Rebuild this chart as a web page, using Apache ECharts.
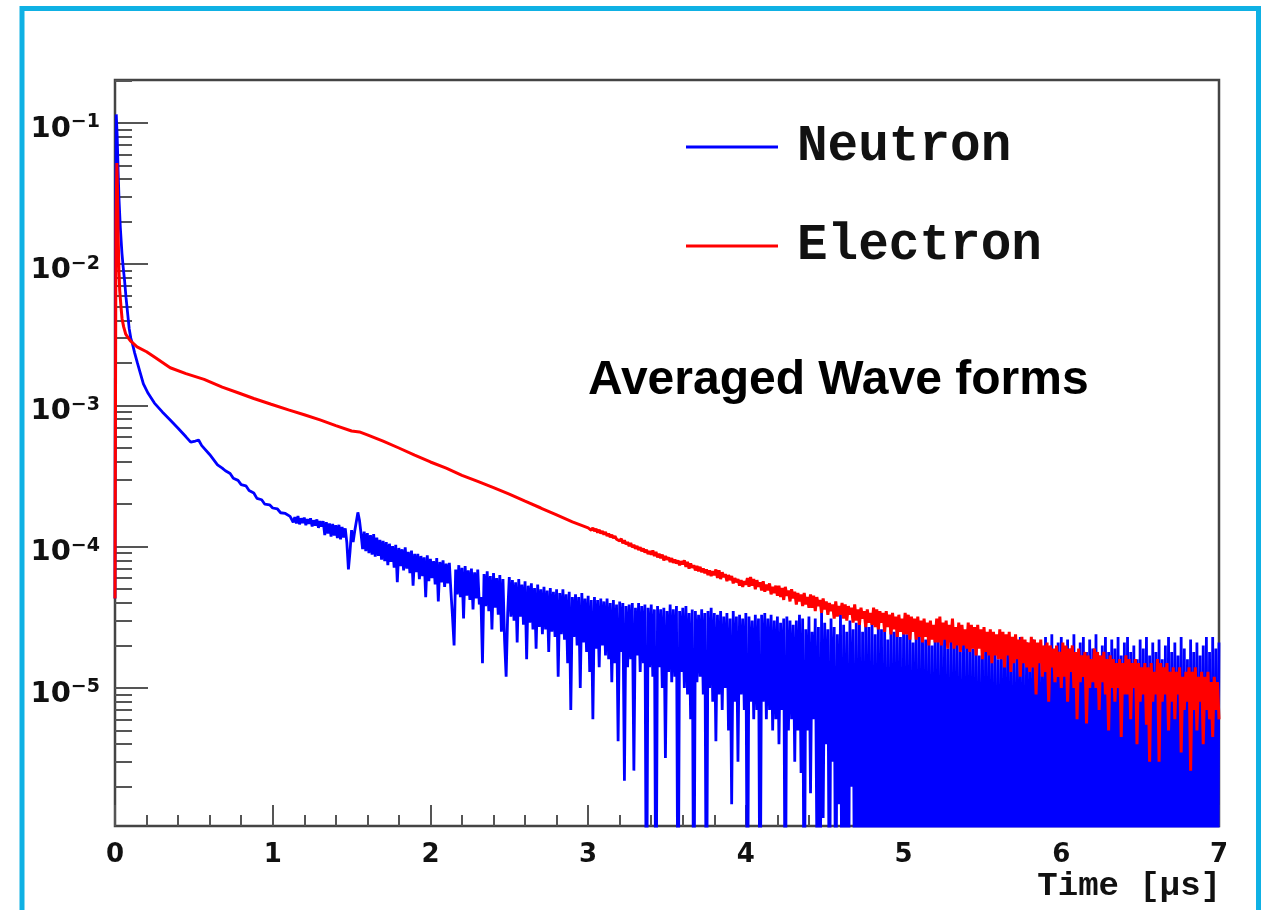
<!DOCTYPE html>
<html>
<head>
<meta charset="utf-8">
<title>Averaged Wave forms</title>
<script src="https://cdn.jsdelivr.net/npm/echarts@6/dist/echarts.min.js"></script>
<style>
  html, body { margin: 0; padding: 0; background: #fff; }
  #chart { width: 1271px; height: 910px; }
</style>
</head>
<body>
<div id="chart"></div>
<script>
// 坐标轴范围 / tick labels
const xMin = 0, xMax = 7;
const yMin = 1.054e-6, yMax = 0.2015;
const xTickLabels = [0, 1, 2, 3, 4, 5, 6, 7];
const yMajorTicks = [1e-5, 1e-4, 1e-3, 1e-2, 1e-1];

// 前沿部分 [time(us), amplitude]
const neutronHead = [
  [0, 4.3e-5], [0.004, 2.0e-2], [0.008, 0.115], [0.014, 0.08], [0.02, 0.045],
  [0.026, 0.028], [0.034, 0.018], [0.044, 0.012], [0.052, 9.5e-3], [0.06, 7.8e-3],
  [0.07, 5.8e-3], [0.08, 4.5e-3], [0.09, 3.5e-3], [0.10, 3.0e-3], [0.11, 2.75e-3],
  [0.125, 2.35e-3], [0.142, 2.0e-3], [0.16, 1.7e-3], [0.18, 1.42e-3], [0.21, 1.22e-3],
  [0.25, 1.04e-3], [0.30, 9.0e-4], [0.35, 7.9e-4], [0.40, 6.9e-4], [0.45, 6.0e-4],
  [0.48, 5.5e-4], [0.51, 5.6e-4], [0.53, 5.7e-4], [0.55, 5.2e-4], [0.60, 4.5e-4],
  [0.65, 3.8e-4], [0.68, 3.6e-4], [0.70, 3.45e-4], [0.73, 3.3e-4], [0.75, 3.05e-4],
  [0.78, 2.95e-4], [0.80, 2.75e-4], [0.83, 2.7e-4], [0.85, 2.5e-4], [0.88, 2.4e-4],
  [0.90, 2.2e-4], [0.93, 2.15e-4], [0.95, 2.0e-4], [0.98, 1.98e-4], [1.0, 1.88e-4],
  [1.03, 1.85e-4], [1.05, 1.74e-4], [1.08, 1.72e-4], [1.11, 1.64e-4]
];
const electronHead = [
  [0, 4.3e-5], [0.006, 2.0e-2], [0.012, 0.052], [0.016, 0.032], [0.02, 0.016],
  [0.025, 9.0e-3], [0.03, 6.5e-3], [0.038, 5.0e-3], [0.045, 4.1e-3], [0.055, 3.6e-3],
  [0.068, 3.2e-3], [0.085, 3.0e-3], [0.10, 2.85e-3], [0.14, 2.6e-3], [0.20, 2.4e-3],
  [0.25, 2.2e-3], [0.35, 1.85e-3], [0.45, 1.68e-3], [0.565, 1.53e-3], [0.68, 1.35e-3],
  [0.78, 1.23e-3], [0.88, 1.12e-3], [0.99, 1.02e-3], [1.10, 9.3e-4], [1.20, 8.6e-4],
  [1.30, 7.9e-4], [1.40, 7.2e-4], [1.50, 6.6e-4], [1.55, 6.5e-4], [1.60, 6.2e-4],
  [1.70, 5.6e-4], [1.80, 5.0e-4], [1.90, 4.45e-4], [2.0, 3.98e-4], [2.10, 3.6e-4],
  [2.20, 3.2e-4], [2.30, 2.9e-4], [2.40, 2.62e-4], [2.50, 2.36e-4], [2.60, 2.1e-4],
  [2.70, 1.88e-4], [2.80, 1.68e-4], [2.90, 1.5e-4], [3.0, 1.36e-4]
];

// 尾部直方图 (bin 宽 0.01 us), 单位 1e-5; 0.01 = 低于坐标轴下限
const binWidth = 0.01;
const neutronTailStart = 1.12;
const neutronTail = [
  16.4, 14.9, 16.2, 14.6, 16.5, 14.4, 15.9, 14.7, 16.1, 14.2, 15.7, 14.5, 15.9, 13.9, 15.4, 14.1, 15.6, 13.6, 15.2, 13.9,
  15.2, 12.1, 14.9, 12.4, 14.6, 11.8, 14.5, 12.0, 14.2, 11.5, 14.3, 11.3, 13.8, 11.6, 13.5, 10.7, 6.9, 9.2, 13.1, 10.8,
  12.9, 15.0, 17.5, 15.4, 12.4, 9.6, 12.8, 9.3, 12.5, 9.0, 12.1, 8.8, 12.3, 8.5, 11.6, 8.6, 11.2, 8.1, 11.0, 7.9,
  10.8, 7.4, 10.5, 7.8, 10.1, 7.1, 10.3, 5.6, 9.8, 7.3, 9.6, 6.8, 9.9, 7.0, 9.2, 6.5, 9.4, 5.3, 8.9, 6.6,
  8.9, 5.9, 8.6, 6.2, 8.4, 4.4, 8.7, 5.7, 8.2, 6.0, 7.9, 5.4, 8.3, 4.1, 7.8, 5.6, 8.0, 5.2, 7.6, 5.5,
  7.7, 4.8, 3.2, 2.0, 6.9, 4.6, 7.4, 4.4, 7.1, 3.1, 7.3, 4.5, 6.8, 4.2, 7.0, 3.6, 6.6, 4.3, 6.9, 3.9,
  4.4, 1.5, 6.4, 3.8, 6.7, 3.5, 6.2, 2.6, 6.5, 3.7, 6.0, 3.3, 6.3, 2.5, 5.9, 2.2, 1.2, 3.4, 6.1, 3.2,
  5.8, 3.0, 5.6, 2.1, 5.9, 3.2, 5.4, 2.8, 5.7, 1.6, 5.3, 2.9, 5.5, 2.6, 5.1, 1.9, 5.4, 2.7, 5.0, 2.4,
  5.2, 2.6, 4.9, 1.8, 5.1, 2.5, 4.8, 2.3, 5.0, 1.2, 4.7, 2.4, 5.0, 2.2, 4.6, 1.5, 4.8, 0.7, 4.4, 2.3,
  4.6, 2.0, 4.4, 1.0, 4.7, 2.1, 4.3, 1.8, 4.5, 1.3, 4.2, 0.6, 4.4, 1.9, 4.2, 1.4, 4.3, 2.0, 4.1, 1.7,
  4.3, 1.6, 4.0, 1.1, 4.2, 1.5, 3.9, 0.42, 4.1, 1.8, 4.0, 0.22, 3.8, 1.4, 3.9, 1.6, 4.0, 0.26, 3.7, 1.7,
  4.0, 1.3, 3.8, 1.5, 3.9, 0.01, 3.7, 1.4, 3.9, 1.2, 3.6, 0.01, 3.8, 1.4, 3.6, 1.0, 3.7, 0.32, 3.5, 1.3,
  3.9, 1.1, 3.6, 1.2, 3.8, 0.01, 3.5, 1.3, 3.7, 1.0, 3.8, 0.9, 3.4, 0.6, 3.6, 0.01, 3.5, 1.1, 3.3, 1.2,
  3.6, 0.9, 3.4, 0.01, 3.5, 1.0, 3.7, 0.8, 3.4, 0.42, 3.3, 0.9, 3.5, 0.7, 3.2, 1.0, 3.4, 0.5, 3.1, 0.15,
  3.5, 0.8, 3.2, 0.3, 3.3, 0.9, 3.1, 0.7, 3.4, 0.01, 3.2, 0.8, 3.0, 0.6, 3.3, 0.7, 3.1, 0.01, 3.3, 0.8,
  3.4, 0.6, 3.1, 0.7, 3.3, 0.5, 3.0, 0.6, 3.2, 0.4, 2.9, 0.7, 3.1, 0.01, 3.2, 0.5, 3.0, 0.6, 2.8, 0.3,
  3.0, 0.5, 3.3, 0.25, 3.1, 0.01, 2.6, 0.5, 3.2, 0.18, 2.5, 0.6, 3.1, 0.08, 2.7, 0.01, 3.4, 0.12, 2.9, 0.4,
  2.6, 0.01, 3.1, 0.3, 2.7, 0.01, 2.4, 0.15, 3.3, 0.01, 2.8, 0.06, 2.5, 0.01, 3.0, 0.2, 2.6, 0.01, 2.9, 0.01,
  3.0, 0.01, 2.5, 0.01, 3.2, 0.02, 2.7, 0.01, 2.9, 0.01, 2.4, 0.01, 3.1, 0.03, 2.6, 0.01, 2.8, 0.01, 2.2, 0.01,
  2.9, 0.01, 2.5, 0.01, 3.0, 0.02, 2.3, 0.01, 2.7, 0.01, 2.4, 0.01, 2.8, 0.01, 2.1, 0.04, 2.6, 0.01, 2.3, 0.01,
  2.7, 0.01, 2.2, 0.01, 2.5, 0.01, 2.0, 0.01, 2.6, 0.01, 2.3, 0.01, 2.1, 0.02, 2.6, 0.01, 1.9, 0.01, 2.4, 0.01,
  2.2, 0.01, 2.5, 0.01, 1.8, 0.01, 2.3, 0.01, 2.0, 0.01, 2.4, 0.01, 1.9, 0.01, 2.3, 0.01, 1.7, 0.01, 2.2, 0.01,
  2.0, 0.01, 2.3, 0.01, 1.8, 0.01, 2.1, 0.01, 1.6, 0.01, 2.2, 0.01, 1.9, 0.01, 2.3, 0.01, 1.7, 0.01, 2.0, 0.01,
  1.8, 0.01, 2.3, 0.01, 1.6, 0.01, 2.1, 0.01, 1.9, 0.01, 2.2, 0.01, 1.7, 0.01, 2.0, 0.01, 1.8, 0.01, 2.3, 0.01,
  1.9, 0.01, 2.4, 0.01, 1.7, 0.01, 2.1, 0.01, 2.3, 0.01, 1.8, 0.01, 2.2, 0.01, 1.9, 0.01, 2.4, 0.01, 1.7, 0.01,
  2.1, 0.01, 2.3, 0.01, 1.8, 0.01, 2.2, 0.01, 1.9, 0.01, 2.4, 0.01, 1.7, 0.01, 2.0, 0.01, 2.3, 0.01, 1.8, 0.01,
  2.2, 0.01, 1.9, 0.01, 2.3, 0.01, 1.7, 0.01, 2.1, 0.01, 2.3, 0.01, 1.8, 0.01, 2.0, 0.01, 1.6, 0.01, 2.2, 0.01,
  1.9, 0.01, 2.3, 0.01, 1.7, 0.01, 2.1, 0.01, 1.8, 0.01, 2.2, 0.01, 1.6, 0.01, 2.0, 0.01, 2.3, 0.01, 1.8, 0.01,
  2.1, 0.01, 1.7, 0.01, 2.3, 0.01, 1.9, 0.01, 1.6, 0.01, 2.2, 0.01, 1.8, 0.01, 2.1, 0.01, 1.7, 0.01, 2.0, 0.01,
  2.3, 0.01, 1.8, 0.01, 2.3, 0.01, 1.9, 0.01, 2.1
];
const electronTailStart = 3.01;
const electronTail = [
  13.9, 13.1, 13.6, 12.9, 13.4, 12.6, 13.2, 12.4, 12.9, 12.2, 12.7, 11.9, 12.4, 11.7, 12.1, 11.5, 11.9, 11.3, 11.6, 11.0,
  11.4, 10.6, 11.1, 10.4, 10.8, 10.1, 10.6, 9.9, 10.3, 9.7, 10.1, 9.5, 9.9, 9.3, 9.7, 9.1, 9.5, 8.9, 9.3, 8.8,
  9.4, 8.6, 9.2, 8.4, 8.9, 8.3, 8.8, 8.0, 8.6, 8.1, 8.4, 7.8, 8.3, 7.7, 8.1, 7.6, 8.0, 7.4, 7.9, 7.5,
  8.0, 7.2, 7.8, 7.0, 7.6, 7.1, 7.4, 6.8, 7.3, 6.7, 7.2, 6.6, 7.0, 6.5, 6.9, 6.3, 6.8, 6.2, 6.7, 6.3,
  6.9, 6.0, 6.8, 5.9, 6.6, 6.1, 6.4, 5.7, 6.3, 5.8, 6.2, 5.5, 6.0, 5.6, 5.9, 5.3, 5.8, 5.2, 5.7, 5.4,
  6.0, 5.2, 6.1, 5.3, 5.9, 5.0, 5.8, 5.2, 5.6, 4.9, 5.7, 4.8, 5.4, 4.9, 5.5, 4.6, 5.2, 4.7, 5.3, 4.5,
  5.3, 4.4, 5.1, 4.2, 5.2, 4.5, 4.9, 4.1, 5.0, 4.3, 4.8, 3.9, 4.7, 4.1, 4.6, 3.8, 4.7, 3.9, 4.4, 3.7,
  4.6, 3.7, 4.5, 3.5, 4.4, 3.8, 4.2, 3.4, 4.3, 3.6, 4.1, 3.3, 4.0, 3.5, 3.9, 3.1, 4.1, 3.2, 3.8, 3.3,
  4.0, 3.1, 3.9, 3.0, 3.8, 3.3, 3.7, 2.9, 3.9, 3.0, 3.6, 2.8, 3.7, 3.1, 3.5, 2.7, 3.6, 2.9, 3.4, 2.8,
  3.7, 2.7, 3.6, 2.6, 3.5, 2.9, 3.4, 2.5, 3.5, 2.7, 3.3, 2.4, 3.4, 2.6, 3.2, 2.3, 3.3, 2.5, 3.1, 2.4,
  3.4, 2.4, 3.3, 2.2, 3.2, 2.5, 3.1, 2.2, 3.2, 2.3, 3.0, 2.1, 3.1, 2.3, 2.9, 2.0, 3.0, 2.2, 2.8, 2.1,
  3.1, 2.1, 3.2, 2.0, 2.9, 2.2, 3.0, 1.9, 2.8, 2.1, 3.1, 1.9, 2.7, 2.0, 2.9, 1.8, 2.8, 2.0, 2.6, 1.9,
  2.9, 1.8, 2.8, 1.9, 2.7, 1.7, 2.8, 1.9, 2.6, 1.6, 2.7, 1.8, 2.5, 1.7, 2.6, 1.5, 2.5, 1.7, 2.4, 1.6,
  2.6, 1.6, 2.5, 1.4, 2.4, 1.7, 2.5, 1.3, 2.3, 1.5, 2.4, 1.6, 2.2, 1.2, 2.3, 1.5, 2.2, 1.4, 2.1, 1.3,
  2.3, 1.4, 2.2, 0.9, 2.1, 1.5, 2.2, 1.2, 2.0, 1.3, 2.1, 0.8, 2.0, 1.4, 1.9, 1.1, 2.0, 1.2, 1.8, 1.0,
  2.1, 1.2, 2.0, 0.8, 1.9, 1.3, 2.0, 1.0, 1.8, 0.6, 1.9, 1.1, 1.7, 1.2, 1.8, 0.56, 1.7, 1.0, 1.6, 1.1,
  1.9, 1.0, 1.8, 0.7, 1.7, 1.1, 1.8, 0.9, 1.6, 0.5, 1.7, 1.0, 1.6, 0.8, 1.5, 1.0, 1.6, 0.45, 1.5, 0.9,
  1.7, 0.9, 1.6, 0.6, 1.5, 1.0, 1.6, 0.4, 1.5, 0.8, 1.4, 0.9, 1.5, 0.55, 1.4, 0.3, 1.5, 0.8, 1.3, 0.9,
  1.6, 0.3, 1.5, 0.8, 1.4, 0.9, 1.5, 0.5, 1.3, 0.8, 1.4, 0.6, 1.3, 0.9, 1.4, 0.35, 1.2, 0.7, 1.3, 0.8,
  1.4, 0.26, 1.3, 0.7, 1.4, 0.5, 1.2, 0.8, 1.3, 0.4, 1.2, 0.7, 1.3, 0.6, 1.1, 0.45, 1.2, 0.7, 1.1, 0.6
];

// 拼接: 前沿点 + 尾部 bin
function buildSeries(head, tailStart, tail) {
  let out = head.slice();
  for (let i = 0; i < tail.length; i++) {
    let t = +(tailStart + i * binWidth).toFixed(3);
    out.push([t, tail[i] * 1e-5]);
  }
  return out;
}
const neutronData = buildSeries(neutronHead, neutronTailStart, neutronTail);
const electronData = buildSeries(electronHead, electronTailStart, electronTail);

// 对数轴小刻度 2..9 x 10^n
let yMinorTicks = [];
for (let e = -6; e <= -1; e++) {
  for (let k = 2; k <= 9; k++) {
    let v = k * Math.pow(10, e);
    if (v >= yMin && v <= yMax) yMinorTicks.push(v);
  }
}

const tickColor = "#555";
const labelFont = "DejaVu Sans";

var chart = echarts.init(document.getElementById("chart"), null, { renderer: "canvas" });

let option = {
  animation: false,
  backgroundColor: "#fff",
  grid: {
    left: 115,
    right: 52,
    top: 80,
    bottom: 84,
    show: true,
    borderColor: "#444",
    borderWidth: 2.5
  },
  title: [
    {
      text: "Averaged Wave forms",
      left: 588,
      top: 357,
      padding: 0,
      textStyle: {
        fontFamily: "Liberation Sans",
        fontWeight: "bold",
        fontSize: 48,
        color: "#000"
      }
    },
    {
      text: "Time [\u00b5s]",
      right: 50,
      top: 869,
      padding: 0,
      textStyle: {
        fontFamily: "Liberation Mono",
        fontWeight: "bold",
        fontSize: 34,
        color: "#111"
      }
    }
  ],
  legend: {
    orient: "vertical",
    left: 686,
    top: 121,
    padding: 0,
    itemGap: 47,
    itemWidth: 92,
    itemHeight: 3,
    icon: "rect",
    selectedMode: false,
    data: ["Neutron", "Electron"],
    textStyle: {
      fontFamily: "Liberation Mono",
      fontWeight: "bold",
      fontSize: 51,
      lineHeight: 52,
      color: "#111",
      padding: [0, 0, 0, 14]
    }
  },
  xAxis: {
    type: "value",
    min: xMin,
    max: xMax,
    interval: 1,
    axisLine: { show: false },
    splitLine: { show: false },
    axisTick: {
      show: true,
      inside: true,
      length: 21,
      lineStyle: { color: tickColor, width: 2 }
    },
    minorTick: {
      show: true,
      splitNumber: 5,
      length: 11,
      lineStyle: { color: tickColor, width: 2 }
    },
    axisLabel: {
      margin: 16,
      fontFamily: labelFont,
      fontWeight: "bold",
      fontSize: 26,
      color: "#111",
      formatter: function(v) {
        return xTickLabels.indexOf(v) >= 0 ? String(v) : "";
      }
    }
  },
  yAxis: [
    {
      type: "log",
      min: yMin,
      max: yMax,
      position: "left",
      axisLine: { show: false },
      splitLine: { show: false },
      axisTick: {
        show: true,
        inside: true,
        length: 33,
        customValues: yMajorTicks,
        lineStyle: { color: tickColor, width: 2 }
      },
      axisLabel: {
        show: true,
        margin: 15,
        padding: [12, 0, 0, 0],
        customValues: yMajorTicks,
        formatter: function(v) {
          let e = Math.round(Math.log10(v));
          return "{b|10}{s|\u2212" + (-e) + "}";
        },
        rich: {
          b: {
            fontFamily: labelFont,
            fontWeight: "bold",
            fontSize: 29,
            lineHeight: 32,
            color: "#111"
          },
          s: {
            fontFamily: labelFont,
            fontWeight: "bold",
            fontSize: 19,
            lineHeight: 19,
            verticalAlign: "top",
            color: "#111"
          }
        }
      }
    },
    {
      type: "log",
      min: yMin,
      max: yMax,
      position: "left",
      offset: 0,
      axisLine: { show: false },
      splitLine: { show: false },
      axisLabel: { show: false },
      axisTick: {
        show: true,
        inside: true,
        length: 17,
        customValues: yMinorTicks,
        lineStyle: { color: tickColor, width: 2 }
      }
    }
  ],
  series: [
    {
      name: "Neutron",
      type: "line",
      data: neutronData,
      showSymbol: false,
      symbol: "none",
      clip: true,
      itemStyle: { color: "#0000ff" },
      lineStyle: { color: "#0000ff", width: 2.8 }
    },
    {
      name: "Electron",
      type: "line",
      data: electronData,
      showSymbol: false,
      symbol: "none",
      clip: true,
      itemStyle: { color: "#ff0000" },
      lineStyle: { color: "#ff0000", width: 3 }
    }
  ],
  graphic: [
    {
      type: "rect",
      silent: true,
      z: 100,
      shape: { x: 22, y: 8.5, width: 1236.5, height: 1000 },
      style: { fill: "none", stroke: "#0fb1e4", lineWidth: 5 }
    }
  ]
};

chart.setOption(option);
window.addEventListener("resize", () => {
  chart.resize();
});
</script>
</body>
</html>
